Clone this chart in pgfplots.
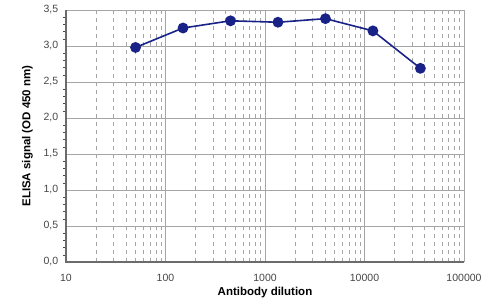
\documentclass[border=0pt]{standalone}
\usepackage{pgfplots}
\pgfplotsset{compat=1.18}
\usepackage{fontspec}
\setmainfont{Liberation Sans}
\definecolor{navy}{RGB}{25,35,135}
\definecolor{gridc}{RGB}{165,165,165}
\definecolor{tickc}{RGB}{70,70,70}
\begin{document}
\begin{tikzpicture}
\useasboundingbox (-66pt,-41pt) rectangle (430pt,262pt);
\begin{axis}[
  at={(0,0)}, anchor=south west,
  scale only axis, width=398pt, height=252pt,
  xmode=log, xmin=10, xmax=100000,
  ymin=0, ymax=3.5,
  xtick={10,100,1000,10000,100000},
  xticklabels={10,100,1000,10000,100000},
  ytick={0,0.5,...,3.5},
  minor y tick num=4,
  ytick pos=left,
  yticklabel style={/pgf/number format/.cd, use comma, fixed, fixed zerofill, precision=1},
  /pgf/number format/assume math mode=true,
  ticklabel style={font=\fontsize{10.5}{12}\selectfont, text=tickc},
  xticklabel style={yshift=-4pt},
  xlabel={\textbf{Antibody dilution}},
  ylabel={\textbf{ELISA signal (OD 450 nm)}},
  label style={font=\fontsize{11.5}{13}\selectfont},
  xlabel style={yshift=1pt},
  ylabel style={yshift=4pt},
  xmajorgrids, xminorgrids, ymajorgrids,
  major grid style={gridc, line width=0.9pt},
  minor grid style={gridc, dash pattern=on 4pt off 4pt, line width=0.7pt},
  axis line style={draw=none},
  major x tick style={draw=none},
  minor x tick style={draw=none},
  major y tick style={draw=none},
  minor y tick style={draw=tickc, line width=0.5pt},
  tick align=outside,
  minor tick length=3pt,
  clip=false,
]
\draw[gridc, line width=1pt] (rel axis cs:0,1) -- (rel axis cs:1,1) -- (rel axis cs:1,0);
\draw[tickc!80, line width=1.2pt] (rel axis cs:0,1) -- (rel axis cs:0,0) -- (rel axis cs:1,0);
\addplot[navy, line width=1.6pt, mark=*, mark size=4.6pt, mark options={fill=navy}]
  coordinates {(50,2.98) (150,3.25) (450,3.35) (1350,3.33) (4050,3.38) (12150,3.21) (36450,2.69)};
\end{axis}
\end{tikzpicture}
\end{document}
